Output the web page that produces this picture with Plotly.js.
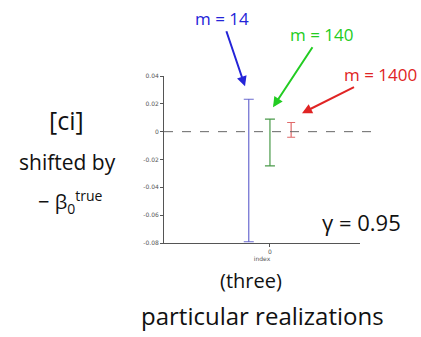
<!DOCTYPE html>
<html>
<head>
<meta charset="utf-8">
<script src="https://cdn.plot.ly/plotly-3.0.1.min.js"></script>
<style>html,body{margin:0;padding:0;background:#fff;}#chart{width:421px;height:337px;}</style>
</head>
<body>
<div id="chart"></div>
<script>
// Data: three particular confidence intervals (shifted by -beta0_true)
var seriesNames = ["m = 14", "m = 140", "m = 1400"];
var xPositions = [-0.2, 0, 0.2];
var ciUpper = [0.0233, 0.0090, 0.0066];
var ciLower = [-0.0791, -0.0246, -0.0040];
var seriesColors = ["#6b6bd0", "#4a9a4a", "#e06a6a"];
var yTickVals = [-0.08, -0.06, -0.04, -0.02, 0, 0.02, 0.04];
var yTickText = ["-0.08", "-0.06", "-0.04", "-0.02", "0", "0.02", "0.04"];
var xTickVals = [0];
var xTickText = ["0"];

var traces = seriesNames.map(function (name, i) {
  var mid = (ciUpper[i] + ciLower[i]) / 2;
  return {
    type: "scatter",
    mode: "markers",
    name: name,
    x: [xPositions[i]],
    y: [mid],
    marker: { size: 0.1, color: "rgba(0,0,0,0)" },
    error_y: {
      type: "data",
      symmetric: false,
      array: [ciUpper[i] - mid],
      arrayminus: [mid - ciLower[i]],
      color: seriesColors[i],
      thickness: 1.2,
      width: i === 2 ? 4 : 5
    },
    showlegend: false,
    hoverinfo: "skip"
  };
});

// plot area in pixels: left 164, right 360, top 75.7, bottom 243.3
function px(x) { return (x - 164) / (360 - 164); }
function py(y) { return (243.3 - y) / (243.3 - 75.7); }

var hand = "Open Sans, DejaVu Sans, sans-serif";

function note(x, y, text, size) {
  return { xref: "paper", yref: "paper", x: px(x), y: py(y), xanchor: "center", yanchor: "middle",
    showarrow: false, text: text, font: { family: hand, size: size, color: "#111" } };
}

var annotations = [
  { xref: "paper", yref: "paper", x: px(245), y: py(86), ax: -23, ay: -68,
    text: "m = 14", showarrow: true, arrowhead: 2, arrowsize: 1, arrowwidth: 2, arrowcolor: "#2424d8",
    font: { family: hand, size: 17, color: "#2424d8" } },
  { xref: "paper", yref: "paper", x: px(273), y: py(107), ax: 48, ay: -73,
    text: "m = 140", showarrow: true, arrowhead: 2, arrowsize: 1, arrowwidth: 2, arrowcolor: "#22cc22",
    font: { family: hand, size: 17, color: "#22cc22" } },
  { xref: "paper", yref: "paper", x: px(302), y: py(113), ax: 78, ay: -39,
    text: "m = 1400", showarrow: true, arrowhead: 2, arrowsize: 1, arrowwidth: 2, arrowcolor: "#e02424",
    font: { family: hand, size: 17, color: "#e02424" } },
  note(66, 120, "[ci]", 25),
  note(67, 162, "shifted by", 21),
  note(70, 202, "− β<sub>0</sub><sup>true</sup>", 20),
  note(361, 222, "γ = 0.95", 22),
  note(251, 281, "(three)", 20),
  note(262, 316, "particular realizations", 24)
];

var layout = {
  width: 421,
  height: 337,
  margin: { l: 164, r: 61, t: 76, b: 94, pad: 0 },
  paper_bgcolor: "#fff",
  plot_bgcolor: "#fff",
  showlegend: false,
  xaxis: {
    range: [-1, 0.85],
    tickvals: xTickVals,
    ticktext: xTickText,
    ticks: "outside",
    ticklen: 3,
    tickcolor: "#555",
    showline: true,
    linecolor: "#555",
    linewidth: 1,
    showgrid: false,
    zeroline: false,
    tickfont: { family: "DejaVu Sans, sans-serif", size: 6, color: "#555" },
    title: { text: "index", font: { family: "DejaVu Sans, sans-serif", size: 6, color: "#555" }, standoff: 1 }
  },
  yaxis: {
    range: [-0.08, 0.04],
    tickvals: yTickVals,
    ticktext: yTickText,
    ticks: "outside",
    ticklen: 3,
    tickcolor: "#555",
    showline: true,
    linecolor: "#555",
    linewidth: 1,
    showgrid: false,
    zeroline: false,
    tickfont: { family: "DejaVu Sans, sans-serif", size: 6, color: "#555" }
  },
  shapes: [
    { type: "line", xref: "paper", yref: "y", x0: 0, x1: 1.077, y0: 0, y1: 0,
      line: { color: "#666", width: 1, dash: "dash" } }
  ],
  annotations: annotations
};

Plotly.newPlot("chart", traces, layout, { staticPlot: true, displayModeBar: false });
</script>
</body>
</html>
